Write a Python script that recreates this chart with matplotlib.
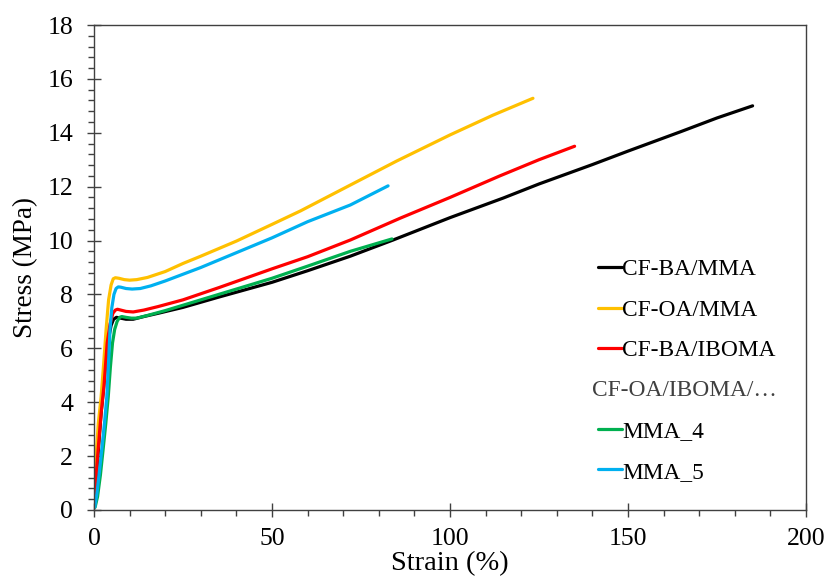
import matplotlib
matplotlib.use("Agg")
import matplotlib.pyplot as plt
from matplotlib.lines import Line2D
from matplotlib.ticker import MultipleLocator

plt.rcParams['font.family'] = ['Liberation Serif', 'DejaVu Serif']

# ---- data (strain %, stress MPa) ----
bk_x = [0, 0.5, 1.2, 2.0, 2.6, 3.3, 4.0, 4.8, 5.5, 6.3, 7.5, 9, 11, 14, 18, 25, 35, 50, 60, 72, 84, 100, 115, 125, 140, 150, 165, 175, 185]
bk_y = [0.5, 1.0, 2.2, 3.6, 4.4, 5.5, 6.3, 6.85, 7.08, 7.15, 7.12, 7.08, 7.08, 7.18, 7.3, 7.52, 7.9, 8.45, 8.88, 9.42, 10.02, 10.85, 11.58, 12.1, 12.82, 13.32, 14.05, 14.55, 15.0]

yl_x = [0, 0.5, 1.2, 2.0, 2.7, 3.4, 4.1, 4.8, 5.4, 6.0, 7, 8.5, 10, 12, 15, 20, 25, 30, 40, 50, 58, 72, 85, 100, 112, 123.3]
yl_y = [0.8, 1.8, 3.2, 4.2, 5.4, 6.7, 7.8, 8.35, 8.58, 8.62, 8.6, 8.55, 8.53, 8.55, 8.63, 8.85, 9.15, 9.42, 9.98, 10.6, 11.1, 12.06, 12.95, 13.92, 14.65, 15.28]

rd_x = [0, 0.5, 1.2, 2.0, 2.8, 3.7, 4.5, 5.3, 6.0, 6.6, 7.5, 9, 11, 14, 18, 25, 35, 50, 60, 72, 86, 100, 114, 125, 135]
rd_y = [0.5, 1.1, 2.3, 3.6, 4.6, 6.2, 6.9, 7.3, 7.42, 7.45, 7.42, 7.37, 7.35, 7.42, 7.55, 7.8, 8.25, 8.95, 9.4, 10.02, 10.83, 11.6, 12.4, 13.0, 13.5]

gr_x = [0.3, 1.0, 1.8, 2.6, 3.3, 4.0, 4.6, 5.2, 5.8, 6.5, 7.2, 7.8, 9, 10.5, 12, 15, 20, 25, 35, 50, 60, 72, 83.7]
gr_y = [0.1, 0.5, 1.3, 2.3, 3.2, 4.2, 5.3, 6.2, 6.7, 7.0, 7.15, 7.18, 7.15, 7.12, 7.12, 7.22, 7.4, 7.6, 8.0, 8.6, 9.05, 9.6, 10.06]

bl_x = [0.2, 0.8, 1.5, 2.3, 3.0, 3.6, 4.1, 4.5, 5.0, 5.6, 6.2, 6.8, 7.5, 9, 10.7, 13, 16, 20, 25, 30, 40, 50, 60, 72, 82.6]
bl_y = [0.1, 0.6, 1.4, 2.4, 3.3, 4.2, 5.5, 6.7, 7.5, 8.0, 8.22, 8.28, 8.27, 8.22, 8.2, 8.22, 8.32, 8.5, 8.75, 9.0, 9.55, 10.1, 10.7, 11.32, 12.03]

labels = ["CF-BA/MMA", "CF-OA/MMA", "CF-BA/IBOMA", "MMA_4", "MMA_5"]
group_label = "CF-OA/IBOMA/\u2026"
colors = ["#000000", "#FFC000", "#FF0000", "#00B050", "#00B0F0"]

fig = plt.figure(figsize=(8.25, 5.81), dpi=100)
ax = fig.add_axes([94/825, 71/581, 712/825, 485/581])

series = [(bk_x, bk_y), (yl_x, yl_y), (rd_x, rd_y), (gr_x, gr_y), (bl_x, bl_y)]
handles = []
for (xs, ys), c, lab in zip(series, colors, labels):
    h, = ax.plot(xs, ys, color=c, lw=2.3, label=lab, solid_capstyle='round')
    handles.append(h)

ax.set_xlim(0, 200)
ax.set_ylim(0, 18)
ax.xaxis.set_major_locator(MultipleLocator(50))
ax.xaxis.set_minor_locator(MultipleLocator(10))
ax.yaxis.set_major_locator(MultipleLocator(2))
ax.yaxis.set_minor_locator(MultipleLocator(0.4))

spine_c = '#404040'
for s in ax.spines.values():
    s.set_color(spine_c)
    s.set_linewidth(1.0)
ax.tick_params(which='major', direction='inout', length=10, width=1, color=spine_c,
               labelsize=18.5, labelcolor='#000000')
ax.tick_params(which='minor', direction='out', length=4, width=1, color=spine_c)
ax.tick_params(axis='y', which='major', pad=10)
ax.tick_params(axis='x', which='major', pad=8)

ax.set_xlabel("Strain (%)", fontsize=20.5, labelpad=1)
ax.set_ylabel("Stress (MPa)", fontsize=19.5, labelpad=7)

blank = Line2D([], [], color='none')
leg_handles = handles[:3] + [blank] + handles[3:]
leg_labels = labels[:3] + [" "] + labels[3:]
leg = ax.legend(leg_handles, leg_labels, loc='upper left', bbox_to_anchor=(0.6952, 0.537),
                frameon=False, fontsize=16.8, handlelength=1.03, handletextpad=0.0,
                labelspacing=0.82, borderaxespad=0)
ax.text(592/825, 1 - 390/581, group_label, transform=fig.transFigure, fontsize=16.8,
        color='#404040', va='center', ha='left')

fig.savefig("out.png", dpi=100)
